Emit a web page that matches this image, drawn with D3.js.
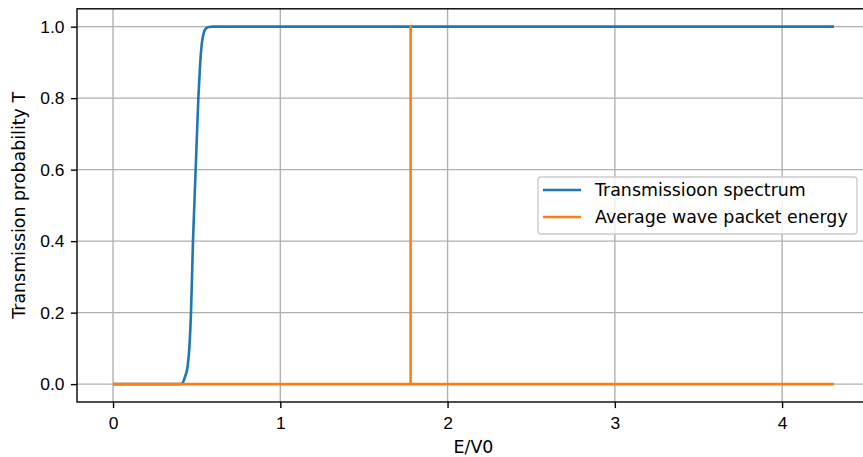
<!DOCTYPE html>
<html>
<head>
<meta charset="utf-8">
<script src="https://d3js.org/d3.v7.min.js"></script>
<style>
  body { margin: 0; background: #fff; }
  svg { display: block; font-family: "DejaVu Sans", sans-serif; }
  .axis text { fill: #000; font-size: 17.4px; }
  .axis path, .axis line { stroke: #000; stroke-width: 1.39px; }
  .grid line { stroke: #b0b0b0; stroke-width: 1.39px; }
</style>
</head>
<body>
<script>
// transmission spectrum
var energy = [0, 0.405, 0.418, 0.430, 0.446, 0.456, 0.466, 0.478, 0.494, 0.510,
              0.520, 0.530, 0.542, 0.555, 0.572, 0.595, 4.31];
var transmission = [0, 0, 0.005, 0.02, 0.05, 0.10, 0.20, 0.40, 0.60, 0.80,
                    0.89, 0.95, 0.982, 0.995, 0.999, 1, 1];

// average wave packet energy marker
var avgEnergy = [0, 1.779, 1.779, 1.779, 4.31];
var avgLevel = [0, 0, 1, 0, 0];

var xTicks = [0, 1, 2, 3, 4];
var yTicks = [0, 0.2, 0.4, 0.6, 0.8, 1.0];
var seriesNames = ["Transmissioon spectrum", "Average wave packet energy"];
var seriesColors = ["#1f77b4", "#ff7f0e"];

var W = 863, H = 457;
var plotLeft = 77, plotTop = 8.8, plotW = 793, plotH = 393.2;

var svg = d3.select("body").append("svg")
  .attr("width", W)
  .attr("height", H);

// matplotlib style 5% margins
var xmin = d3.min(energy), xmax = d3.max(energy);
var xpad = (xmax - xmin) * 0.05;
var x = d3.scaleLinear().domain([xmin - xpad, xmax + xpad]).range([plotLeft, plotLeft + plotW]);
var y = d3.scaleLinear().domain([-0.05, 1.05]).range([plotTop + plotH, plotTop]);

// grid
var grid = svg.append("g").attr("class", "grid");
grid.selectAll("line.gx").data(xTicks).enter().append("line")
  .attr("x1", d => x(d)).attr("x2", d => x(d))
  .attr("y1", plotTop).attr("y2", plotTop + plotH);
grid.selectAll("line.gy").data(yTicks).enter().append("line")
  .attr("x1", plotLeft).attr("x2", plotLeft + plotW)
  .attr("y1", d => y(d)).attr("y2", d => y(d));

var line = d3.line()
  .x(d => x(d[0]))
  .y(d => y(d[1]));

svg.append("path")
  .datum(d3.zip(energy, transmission))
  .attr("fill", "none")
  .attr("stroke", seriesColors[0])
  .attr("stroke-width", 2.6)
  .attr("stroke-linejoin", "round")
  .attr("d", line.curve(d3.curveMonotoneX));

svg.append("path")
  .datum(d3.zip(avgEnergy, avgLevel))
  .attr("fill", "none")
  .attr("stroke", seriesColors[1])
  .attr("stroke-width", 2.6)
  .attr("stroke-linejoin", "round")
  .attr("d", line.curve(d3.curveLinear));

// frame
svg.append("rect")
  .attr("x", plotLeft).attr("y", plotTop)
  .attr("width", plotW).attr("height", plotH)
  .attr("fill", "none")
  .attr("stroke", "#000")
  .attr("stroke-width", 1.39);

// axes
svg.append("g")
  .attr("class", "axis")
  .attr("transform", "translate(0," + (plotTop + plotH) + ")")
  .call(d3.axisBottom(x).tickValues(xTicks).tickFormat(d3.format("d")).tickSize(6.1).tickPadding(8.5))
  .call(g => g.select(".domain").remove());

svg.append("g")
  .attr("class", "axis")
  .attr("transform", "translate(" + plotLeft + ",0)")
  .call(d3.axisLeft(y).tickValues(yTicks).tickFormat(d3.format(".1f")).tickSize(6.1).tickPadding(6.4))
  .call(g => g.select(".domain").remove());

// axis labels
svg.append("text")
  .attr("x", plotLeft + plotW / 2)
  .attr("y", 453)
  .attr("text-anchor", "middle")
  .attr("font-size", "17.4px")
  .text("E/V0");

svg.append("text")
  .attr("transform", "translate(25," + (plotTop + plotH / 2) + ")rotate(-90)")
  .attr("text-anchor", "middle")
  .attr("font-size", "17.4px")
  .text("Transmission probability T");

// legend
var legend = svg.append("g").attr("transform", "translate(538,177)");
legend.append("rect")
  .attr("width", 319).attr("height", 57)
  .attr("rx", 3).attr("ry", 3)
  .attr("fill", "rgba(255,255,255,0.8)")
  .attr("stroke", "#cccccc")
  .attr("stroke-width", 1.39);
var items = legend.selectAll("g.item").data(seriesNames).enter().append("g")
  .attr("transform", (d, i) => "translate(0," + (13 + i * 27) + ")");
items.append("line")
  .attr("x1", 5).attr("x2", 43)
  .attr("stroke", (d, i) => seriesColors[i])
  .attr("stroke-width", 2.6);
items.append("text")
  .attr("x", 57)
  .attr("y", 6.2)
  .attr("font-size", "17.4px")
  .text(d => d);
</script>
</body>
</html>
